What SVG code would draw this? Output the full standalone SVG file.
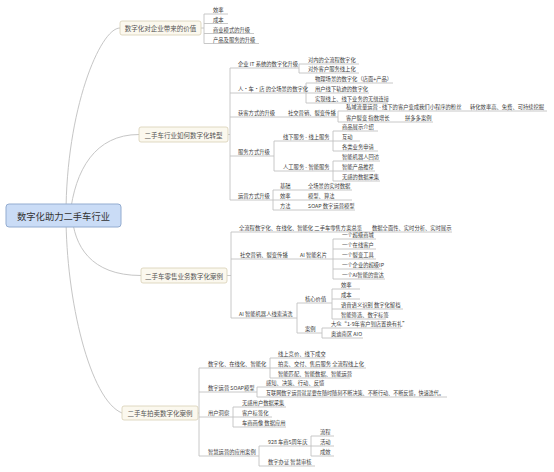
<svg xmlns="http://www.w3.org/2000/svg" width="554" height="472" viewBox="0 0 554 472">
<style>
.ln{fill:none;stroke:#c2c2c2;stroke-width:0.9}
.cv{fill:none;stroke:#c6c6c6;stroke-width:1}
text{font-family:"Noto Sans CJK SC","Noto Sans",sans-serif;dominant-baseline:central}
.t{font-size:5.3px;fill:#3a3a3a}
.bt{font-size:6.5px;fill:#555;text-anchor:middle}
.bx{fill:#fbf8ee;stroke:#d8cfb4;stroke-width:0.8}
.root{fill:#cadcf6;stroke:#93acd0;stroke-width:1}
.rt{font-size:9.3px;fill:#333;text-anchor:middle}
</style>
<rect width="554" height="472" fill="#ffffff"/>
<g id="connectors">
<path class="cv" d="M66 215 C66 110 100 28 120 28"/>
<path class="cv" d="M70 215 C75 170 95 134.5 139 134.5"/>
<path class="cv" d="M72 215 C74 245 90 275.5 141 275.5"/>
<path class="cv" d="M66 215 C66 300 90 400 122 413"/>
<!-- branch 1 -->
<path class="ln" d="M201 28 H204 M204 14 V43.5 M204 14 H228 M204 23.5 H228 M204 33.5 H254 M204 43.5 H259"/>
<!-- branch 2 -->
<path class="ln" d="M228 134.5 H230 M230 68 V200"/>
<path class="ln" d="M230 68 H299 M299 64 V73 M299 64 H359 M299 73 H359"/>
<path class="ln" d="M230 93 H306 M306 83 V103 M306 83 H393 M306 93 H369 M306 103 H388"/>
<path class="ln" d="M230 117 H338 M338 111 V122 M338 111 H547 M338 122 H433"/>
<path class="ln" d="M230 156 H274 M274 141 V171 M274 141 H333 M333 131 V151 M333 131 H378 M333 141 H360 M333 151 H378"/>
<path class="ln" d="M274 171 H333 M333 161 V181 M333 161 H380 M333 171 H375 M333 181 H380"/>
<path class="ln" d="M230 200 H273 M273 190 V210 M273 190 H352 M273 200 H352 M273 210 H355"/>
<!-- branch 3 -->
<path class="ln" d="M227 275.5 H231 M231 232 V318"/>
<path class="ln" d="M231 232 H452"/>
<path class="ln" d="M231 259 H333 M333 239 V279 M333 239 H376 M333 249 H376 M333 259 H376 M333 269 H382 M333 279 H385"/>
<path class="ln" d="M231 318 H297 M297 303 V333 M297 303 H332 M332 289 V319 M332 289 H360 M332 299 H360 M332 309 H403 M332 319 H386"/>
<path class="ln" d="M297 333 H322 M322 328 V338 M322 328 H401 M322 338 H363"/>
<!-- branch 4 -->
<path class="ln" d="M198 413 H199 M199 368 V456"/>
<path class="ln" d="M199 368 H270 M270 358 V378 M270 358 H325 M270 368 H366 M270 378 H350"/>
<path class="ln" d="M199 392 H257 M257 387 V397 M257 387 H320 M257 397 H447"/>
<path class="ln" d="M199 417 H233 M233 407 V427 M233 407 H286 M233 417 H272 M233 427 H286"/>
<path class="ln" d="M199 456 H259 M259 446 V466 M259 446 H311 M311 436 V456 M311 436 H334 M311 446 H334 M311 456 H334 M259 466 H315"/>
</g>
<g id="root"><rect class="root" x="6" y="204" width="115" height="23" rx="3"/><text class="rt" x="63.5" y="215.5">数字化助力二手车行业</text></g>
<g id="b1"><rect class="bx" x="120" y="21" width="81" height="14" rx="2"/><text class="bt" x="160.5" y="28">数字化对企业带来的价值</text></g>
<g id="b1-1"><text class="t" x="213" y="10">效率</text></g>
<g id="b1-2"><text class="t" x="213" y="19.5">成本</text></g>
<g id="b1-3"><text class="t" x="213" y="29.5">商业模式的升级</text></g>
<g id="b1-4"><text class="t" x="213" y="39.5">产品及服务的升级</text></g>
<g id="b2"><rect class="bx" x="139" y="127" width="89" height="15" rx="2"/><text class="bt" x="183.5" y="134.5">二手车行业如何数字化转型</text></g>
<g id="b2-1"><text class="t" x="238" y="64">企业 IT 系统的数字化升级</text></g>
<g id="b2-1-1"><text class="t" x="308" y="60">对内的全流程数字化</text></g>
<g id="b2-1-2"><text class="t" x="308" y="69">对外客户服务线上化</text></g>
<g id="b2-2"><text class="t" x="238" y="89">人·车·店 的全场景的数字化</text></g>
<g id="b2-2-1"><text class="t" x="315" y="79">物理场景的数字化（店面+产品）</text></g>
<g id="b2-2-2"><text class="t" x="315" y="89">用户线下轨迹的数字化</text></g>
<g id="b2-2-3"><text class="t" x="315" y="99">实现线上、线下业务的无缝连接</text></g>
<g id="b2-3"><text class="t" x="238" y="113">获客方式的升级</text></g>
<g id="b2-3-1"><text class="t" x="288" y="113">社交营销、裂变传播</text></g>
<g id="b2-3-1-1"><text class="t" x="346" y="107">私域流量运营 - 线下的客户变成我们小程序的粉丝</text></g>
<g id="b2-3-1-1-1"><text class="t" x="470" y="107">转化效率高、免费、可持续挖掘</text></g>
<g id="b2-3-1-2"><text class="t" x="346" y="118">客户裂变 指数增长</text></g>
<g id="b2-3-1-2-1"><text class="t" x="405" y="118">拼多多案例</text></g>
<g id="b2-4"><text class="t" x="238" y="152">服务方式升级</text></g>
<g id="b2-4-1"><text class="t" x="283" y="137">线下服务 - 线上服务</text></g>
<g id="b2-4-1-1"><text class="t" x="342" y="127">商品展示介绍</text></g>
<g id="b2-4-1-2"><text class="t" x="342" y="137">互动</text></g>
<g id="b2-4-1-3"><text class="t" x="342" y="147">各类业务申请</text></g>
<g id="b2-4-2"><text class="t" x="283" y="167">人工服务 - 智能服务</text></g>
<g id="b2-4-2-1"><text class="t" x="342" y="157">智能机器人回访</text></g>
<g id="b2-4-2-2"><text class="t" x="342" y="167">智能产品推荐</text></g>
<g id="b2-4-2-3"><text class="t" x="342" y="177">无感的数据采集</text></g>
<g id="b2-5"><text class="t" x="238" y="196">运营方式升级</text></g>
<g id="b2-5-1"><text class="t" x="280" y="186">基础</text><text class="t" x="308" y="186">全场景的实时数据</text></g>
<g id="b2-5-2"><text class="t" x="280" y="196">效率</text><text class="t" x="308" y="196">模型、算法</text></g>
<g id="b2-5-3"><text class="t" x="280" y="206">方法</text><text class="t" x="308" y="206">SOAP 数字运营模型</text></g>
<g id="b3"><rect class="bx" x="141" y="268" width="86" height="15" rx="2"/><text class="bt" x="184" y="275.5">二手车零售业务数字化案例</text></g>
<g id="b3-1"><text class="t" x="239" y="227.5">全流程数字化、在线化、智能化 二手车零售方案总览</text></g>
<g id="b3-1-1"><text class="t" x="372" y="227.5">数据全面性、实时分析、实时展示</text></g>
<g id="b3-2"><text class="t" x="240" y="255">社交营销、裂变传播</text></g>
<g id="b3-2-1"><text class="t" x="300" y="255">AI 智能名片</text></g>
<g id="b3-2-1-1"><text class="t" x="342" y="235">一个超级商城</text></g>
<g id="b3-2-1-2"><text class="t" x="342" y="245">一个在线客户</text></g>
<g id="b3-2-1-3"><text class="t" x="342" y="255">一个裂变工具</text></g>
<g id="b3-2-1-4"><text class="t" x="342" y="265">一个企业的超级IP</text></g>
<g id="b3-2-1-5"><text class="t" x="342" y="275">一个AI智能的雷达</text></g>
<g id="b3-3"><text class="t" x="239" y="314">AI 智能机器人线索清洗</text></g>
<g id="b3-3-1"><text class="t" x="305" y="299">核心价值</text></g>
<g id="b3-3-1-1"><text class="t" x="341" y="285">效率</text></g>
<g id="b3-3-1-2"><text class="t" x="341" y="295">成本</text></g>
<g id="b3-3-1-3"><text class="t" x="341" y="305">语音语义识别 数字化留档</text></g>
<g id="b3-3-1-4"><text class="t" x="341" y="315">智能筛选、数字标签</text></g>
<g id="b3-3-2"><text class="t" x="305" y="329">案例</text></g>
<g id="b3-3-2-1"><text class="t" x="331" y="324">大众“1-9年客户到店置换有礼”</text></g>
<g id="b3-3-2-2"><text class="t" x="331" y="334">奥迪南区 AIO</text></g>
<g id="b4"><rect class="bx" x="122" y="406" width="76" height="14" rx="2"/><text class="bt" x="160" y="413">二手车拍卖数字化案例</text></g>
<g id="b4-1"><text class="t" x="208" y="364">数字化、在线化、智能化</text></g>
<g id="b4-1-1"><text class="t" x="278" y="354">线上竞价、线下成交</text></g>
<g id="b4-1-2"><text class="t" x="278" y="364">拍卖、交付、售后服务 全流程线上化</text></g>
<g id="b4-1-3"><text class="t" x="278" y="374">智能匹配、智能数据、智能运营</text></g>
<g id="b4-2"><text class="t" x="208" y="388">数字运营 SOAP模型</text></g>
<g id="b4-2-1"><text class="t" x="266" y="383">感知、决策、行动、反馈</text></g>
<g id="b4-2-2"><text class="t" x="266" y="393" textLength="178" lengthAdjust="spacingAndGlyphs">互联网数字运营就是要在随时随刻不断决策、不断行动、不断反馈，快速迭代。</text></g>
<g id="b4-3"><text class="t" x="208" y="413">用户洞察</text></g>
<g id="b4-3-1"><text class="t" x="242" y="403">无感用户数据采集</text></g>
<g id="b4-3-2"><text class="t" x="242" y="413">客户标签化</text></g>
<g id="b4-3-3"><text class="t" x="242" y="423">车商画像 数据应用</text></g>
<g id="b4-4"><text class="t" x="208" y="452">智慧运营的应用案例</text></g>
<g id="b4-4-1"><text class="t" x="268" y="442">928 车商5周年庆</text></g>
<g id="b4-4-1-1"><text class="t" x="320" y="432">流程</text></g>
<g id="b4-4-1-2"><text class="t" x="320" y="442">活动</text></g>
<g id="b4-4-1-3"><text class="t" x="320" y="452">成效</text></g>
<g id="b4-4-2"><text class="t" x="268" y="462">数字办证 智慧审核</text></g>
</svg>
